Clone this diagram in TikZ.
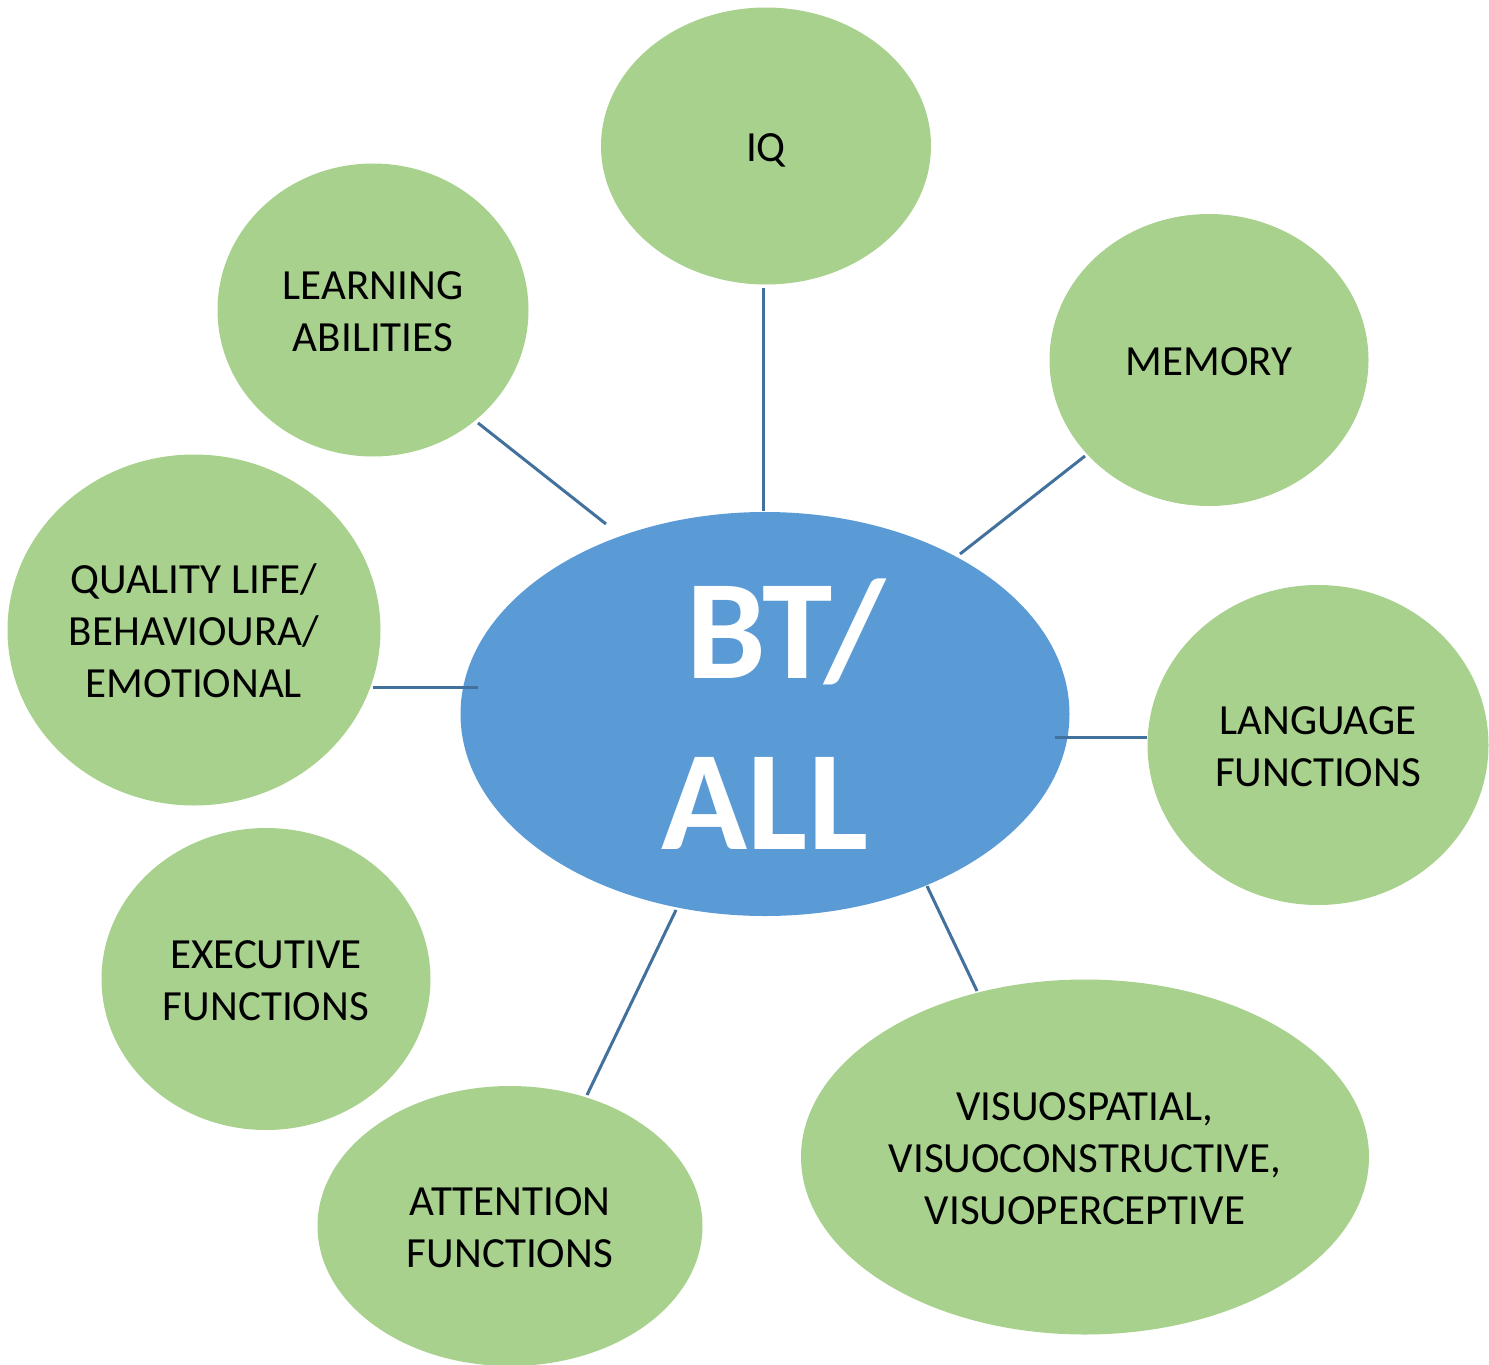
\documentclass[tikz,border=0pt]{standalone}
\usepackage{fontspec}
\setmainfont{Carlito}
\usetikzlibrary{shapes.geometric}
\definecolor{leaf}{HTML}{A9D18E}
\definecolor{hub}{HTML}{5B9BD5}
\definecolor{spoke}{HTML}{41719C}
% centred lines of a label, drawn a little low while keeping the box size
\newcommand\stacklines[1]{\raisebox{-5pt}[\height][\depth]{\begin{tabular}{@{}c@{}}#1\end{tabular}}}
\tikzset{
  topic/.style={ellipse, fill=leaf, inner sep=0pt,
    font=\fontsize{43}{52}\selectfont, text=black},
  hubnode/.style={ellipse, fill=hub, inner sep=0pt, align=center,
    font=\fontsize{142}{171}\selectfont\bfseries, text=white},
  link/.style={draw=spoke, line width=3pt}
}
\begin{document}
\begin{tikzpicture}[x=1pt, y=-1pt]
\useasboundingbox (0,0) rectangle (1489,1365);

% hub
\node[hubnode, minimum width=609pt, minimum height=404pt] (hub) at (765,714) {\hspace*{42pt}BT/\\ALL};

% topics around the hub
\node[topic, minimum width=330pt, minimum height=277pt] (iq) at (766,146) {\stacklines{IQ}};
\node[topic, minimum width=311pt, minimum height=293pt] (learn) at (373,310) {\stacklines{LEARNING\\ABILITIES}};
\node[topic, minimum width=319pt, minimum height=292pt] (mem) at (1209,360) {\stacklines{MEMORY}};
\node[topic, minimum width=373pt, minimum height=351pt] (qual) at (194,630) {\stacklines{QUALITY LIFE/\\BEHAVIOURA/\\EMOTIONAL}};
\node[topic, minimum width=341pt, minimum height=320pt] (lang) at (1318,745) {\stacklines{LANGUAGE\\FUNCTIONS}};
\node[topic, minimum width=329pt, minimum height=302pt] (exec) at (266,979) {\stacklines{EXECUTIVE\\FUNCTIONS}};
\node[topic, minimum width=385pt, minimum height=280pt] (att) at (510,1226) {\stacklines{ATTENTION\\FUNCTIONS}};
\node[topic, minimum width=568pt, minimum height=355pt] (vis) at (1085,1157) {\stacklines{VISUOSPATIAL,\\VISUOCONSTRUCTIVE,\\VISUOPERCEPTIVE}};

% connector end points
\coordinate (iq-e) at (763,288);   \coordinate (hub-iq) at (763,511);
\coordinate (learn-e) at (478,423); \coordinate (hub-learn) at (606,524);
\coordinate (mem-e) at (1085,456); \coordinate (hub-mem) at (960,554);
\coordinate (qual-e) at (373,687); \coordinate (hub-qual) at (478,687);
\coordinate (lang-e) at (1147,737); \coordinate (hub-lang) at (1055,737);
\coordinate (att-e) at (587,1095); \coordinate (hub-att) at (676,910);
\coordinate (vis-e) at (977,991);  \coordinate (hub-vis) at (927,886);

% spokes
\draw[link] (iq-e) -- (hub-iq);
\draw[link] (learn-e) -- (hub-learn);
\draw[link] (mem-e) -- (hub-mem);
\draw[link] (qual-e) -- (hub-qual);
\draw[link] (lang-e) -- (hub-lang);
\draw[link] (att-e) -- (hub-att);
\draw[link] (vis-e) -- (hub-vis);
\end{tikzpicture}
\end{document}
